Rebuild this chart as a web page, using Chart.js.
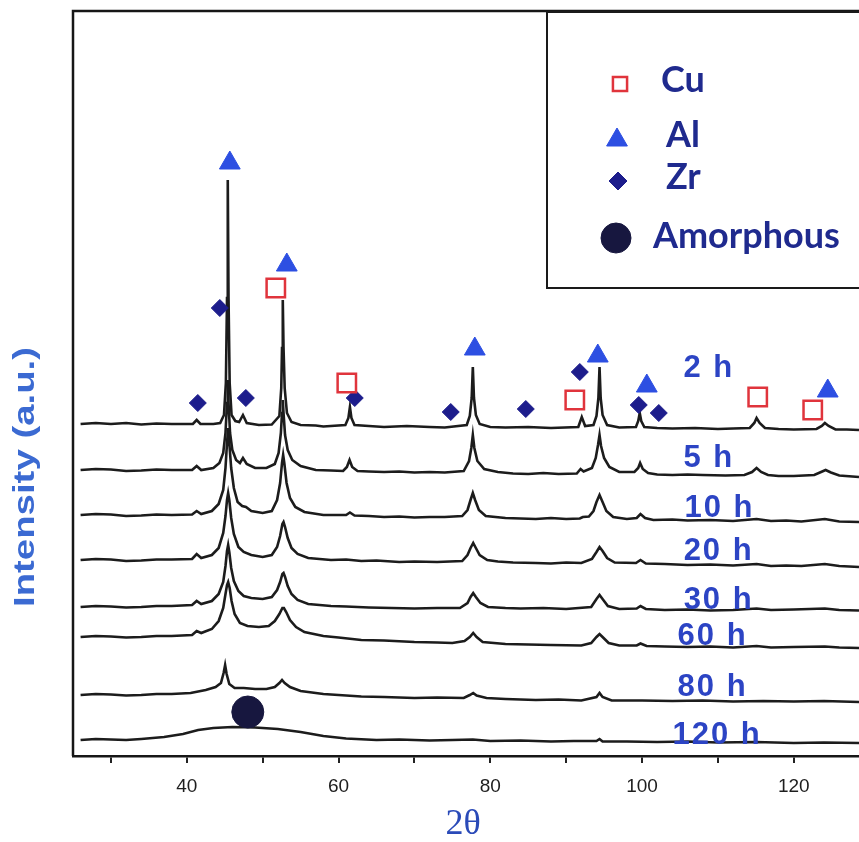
<!DOCTYPE html>
<html>
<head>
<meta charset="utf-8">
<title>XRD patterns vs milling time</title>
<script src="https://cdn.jsdelivr.net/npm/chart.js@4.4.1/dist/chart.umd.min.js"></script>
<style>
  html, body { margin: 0; padding: 0; background: #fff; overflow: hidden; }
  canvas { display: block; }
</style>
</head>
<body>
<canvas id="xrdChart" width="859" height="842"></canvas>
<script>
// milling times, top curve first
const millTimes = ['2 h', '5 h', '10 h', '20 h', '30 h', '60 h', '80 h', '120 h'];

// [2θ, intensity (a.u., stacked)]
const pattern2h = [[26,324],[28,325],[30,324],[32,325],[34,323.5],[36,324.5],[38,324],[40.8,324],[41.3,328],[41.8,324],[43.5,324],[44.4,325],[44.9,333],[45.15,365],[45.3,450],[45.4,568],[45.5,450],[45.65,365],[45.9,333],[46.4,327],[46.9,326],[47.4,333],[47.9,325],[49.5,323],[51.2,323.5],[52.2,332],[52.45,360],[52.55,400],[52.65,448],[52.75,400],[52.9,360],[53.2,335],[53.8,326],[55,323],[57,322.5],[58,321.5],[60.9,323],[61.3,330],[61.5,341],[61.7,330],[62.1,323],[64,322],[66,321],[69,322],[72,321],[74,320.5],[76.9,323],[77.3,332],[77.55,350],[77.7,381],[77.85,350],[78.1,333],[78.6,324],[80,321],[82,320.5],[85,321],[88,320],[91.6,321],[92.06,331],[92.5,322],[93.6,323],[94.0,332],[94.25,350],[94.4,381],[94.55,350],[94.8,333],[95.4,323],[97,320.5],[99.2,321],[99.5,327],[99.7,335],[99.9,327],[100.3,321],[102,320],[104,319.5],[107,320],[110,319],[112,319.5],[114.2,320],[114.8,325],[115.1,330],[115.5,325],[116.2,320],[118,319],[120,318.5],[123.0,319],[123.7,322],[124.1,325],[124.6,322],[125.5,318.5],[127,318.5],[128.6,318]];
const pattern5h = [[26,278],[28,279],[30,278.5],[32,277],[34,277.5],[36,278.5],[38,278],[40.7,278],[41.3,282],[41.9,278],[43.5,280],[44.3,285],[44.8,295],[45.1,315],[45.3,345],[45.4,368],[45.5,345],[45.7,315],[46.0,298],[46.5,288],[47.0,285],[47.4,290],[47.9,284],[49,280],[50.5,280],[51.6,284],[52.1,295],[52.4,315],[52.55,335],[52.65,348],[52.75,335],[52.95,313],[53.3,298],[53.9,288],[55,282],[57,278],[59,277.5],[60.6,277],[61.1,281],[61.45,288],[61.8,281],[62.5,277],[64,276.5],[66,276],[68,276.5],[70,275.5],[72,276],[74,275.5],[76.5,277],[77.2,287],[77.5,300],[77.7,313],[77.9,300],[78.3,287],[79.2,279],[81,276],[83,274.5],[85,274],[87,275],[89,274],[91.4,274.5],[91.9,279],[92.3,276.5],[93.4,280],[93.9,290],[94.2,303],[94.4,313],[94.6,302],[95.0,290],[95.7,281],[97,276],[99,276],[99.5,280],[99.75,285],[100.1,279],[100.8,275],[102,273.5],[104,273],[106,273.5],[108,273],[111,272.5],[113.5,273],[114.5,276],[115.1,280],[115.7,276],[116.6,273],[118,272],[120,272],[122.7,273],[123.6,276],[124.2,278],[124.9,275.5],[126,272.5],[128.6,271]];
const pattern10h = [[26,233],[28,234],[30,233.5],[32,232],[34,232.5],[36,233.5],[38,233],[40.7,233.5],[41.3,237],[41.9,234],[43.3,237],[44.2,244],[44.8,258],[45.1,280],[45.3,305],[45.45,320],[45.6,305],[45.85,280],[46.2,260],[46.7,246],[47.3,242],[47.8,241],[48.5,237],[50,235],[51.2,237],[51.9,248],[52.3,265],[52.55,285],[52.7,293],[52.85,285],[53.15,265],[53.6,250],[54.3,241],[55.5,236],[58,233],[61.0,233],[61.5,235.5],[62.1,232.5],[64,232],[66,231],[68,231.5],[70,230.5],[72,231],[74,231],[76.3,232],[77.0,238],[77.4,248],[77.7,255],[78.0,248],[78.5,238],[79.4,232],[82,230],[84,229.5],[86,229],[88,230],[90,229],[91.8,229.5],[92.2,231],[93.0,231.5],[93.6,237],[94.0,246],[94.4,253],[94.8,246],[95.3,237],[96.2,231],[98,229],[99.3,230],[99.8,234],[100.4,230],[101.5,228],[104,228.5],[106,227.5],[109,228],[112,227],[115.1,229],[117,227],[119,227.5],[121,226.5],[124.1,229],[126,226.5],[128.6,226]];
const pattern20h = [[26,188],[28,189],[30,188.5],[32,187],[34,187.5],[36,188.5],[38,188.5],[40.7,189],[41.3,194],[41.9,190],[43.3,193],[44.2,200],[44.8,215],[45.1,232],[45.3,248],[45.45,255],[45.6,248],[45.85,230],[46.2,214],[46.8,201],[47.5,196],[48.5,193],[50,191],[51.2,193],[51.9,201],[52.3,212],[52.6,224],[52.75,226],[52.95,221],[53.3,210],[53.8,200],[54.6,194],[56,190],[59,188],[61,188.5],[63,187],[65,187.5],[68,186],[70,186.5],[73,186],[76.3,187],[77.0,193],[77.4,200],[77.75,205],[78.1,200],[78.6,193],[79.6,188],[81,186.5],[83,185.5],[86,185],[88,184.5],[90,185.5],[92,185],[93.4,189],[94.0,196],[94.4,201],[94.8,197],[95.4,190],[96.4,185.5],[99.2,185],[99.8,188],[100.5,184.5],[103,184],[106,183],[109,183.5],[112,182.5],[115.1,184],[117,182],[119,182.5],[121,182],[124.1,184],[126,182],[128.6,181]];
const pattern30h = [[26,141],[28,142],[30,141.5],[32,140.5],[34,141],[36,142],[38,142],[40.7,143],[41.3,147],[41.9,144],[43.3,147],[44.2,154],[44.8,166],[45.1,182],[45.3,197],[45.45,203],[45.6,196],[45.85,180],[46.2,167],[46.8,157],[47.5,152],[48.5,150],[50,149],[51.2,151],[51.9,158],[52.3,166],[52.6,174],[52.75,175],[52.95,171],[53.3,162],[53.8,154],[54.6,148],[56,144],[59,142],[61,141.5],[64,140.5],[67,140],[70,139.5],[73,140],[76,140],[77.0,145],[77.4,151],[77.75,155],[78.1,151],[78.7,145],[79.7,141],[82,140],[84,139.5],[87,140],[90,139],[93.3,141],[94.0,149],[94.4,153],[94.8,149],[95.5,142],[97,139],[99.3,139.5],[99.8,142],[100.5,139],[103,138],[106,138.5],[109,137.5],[112,138],[115.1,139.5],[117,138],[120,138.5],[124.1,139.5],[126,138],[128.6,137.5]];
const pattern60h = [[26,111],[28,112],[30,111.5],[32,110.5],[34,111],[36,112],[38,112],[40.7,113],[41.3,117],[41.9,115],[43.3,119],[44.2,127],[44.8,140],[45.1,154],[45.3,163],[45.45,166],[45.65,160],[45.9,147],[46.3,134],[47,125],[48,122],[49.5,121],[50.8,122],[51.6,127],[52.2,134],[52.6,140],[52.8,140],[53.1,136],[53.6,128],[54.4,121],[55.5,116],[58,112],[60,110.5],[63,108],[66,107.5],[70,106],[73,105.5],[75,105],[76.6,107],[77.3,111],[77.75,115],[78.2,111],[79,106],[82,104],[85,103.5],[88,103],[92,102.5],[93.3,105],[94.0,111],[94.4,114],[94.8,111],[95.6,105],[97,102.5],[99.3,102.5],[99.8,104.5],[100.6,102],[103,101.5],[106,101],[109,101.5],[112,100.5],[115.1,102],[117,100.5],[120,101],[124.1,101.5],[126,100.5],[128.6,100]];
const pattern80h = [[26,53],[28,54],[30,53.5],[32,52.5],[34,53],[36,54],[38,54],[40.5,55],[42.5,58],[43.8,61],[44.5,65],[44.85,75],[45.05,83],[45.25,74],[45.6,64],[46.3,60],[47.5,60],[49,59],[50.5,59],[51.6,61],[52.2,65],[52.55,68],[52.9,65],[53.6,61],[55,57],[58,54],[60,53],[63,51.5],[66,51],[70,50],[73,50.5],[76.5,50],[77.3,53],[77.75,55],[78.2,52.5],[79.5,50],[82,49],[86,48],[89,48.5],[92,47.5],[94.0,51],[94.4,55],[94.8,51],[96,47.5],[100,47.5],[104,47],[108,47.5],[112,46.5],[116,47],[120,46.5],[124,47],[128.6,46]];
const pattern120h = [[26,8],[28,9],[30,8.5],[32,8],[34,9],[37,11],[39.5,14],[41.5,18],[43.5,20],[46,21],[49,20.5],[52,19],[55,16],[58,12],[61,9.5],[65,8],[68,8.5],[72,7.5],[75,8],[77.7,8.5],[80,7],[84,7.5],[88,6.5],[91,7],[94.0,7],[94.4,9],[94.8,6.5],[98,6.5],[102,6],[106,6.5],[110,5.5],[115,6],[120,5],[124,5.5],[128.6,5]];

const patterns = [pattern2h, pattern5h, pattern10h, pattern20h, pattern30h, pattern60h, pattern80h, pattern120h];

// phase markers [2θ, level]
const cuMarks = [[51.73,460],[61.09,365],[91.14,348],[115.25,351],[122.5,338]];
const alMarks = [[45.67,585],[53.18,483],[77.96,399],[94.17,392],[100.63,362],[124.48,357]];
const zrMarks = [[44.35,440],[41.45,345],[47.78,350],[62.14,350],[74.79,336],[84.68,339],[91.8,376],[99.57,343],[102.21,335]];
const amorphousMarks = [[48.04,36]];

// milling-time label anchors [2θ, level]
const labelTheta = [108.8, 108.8, 110.2, 110.1, 110.1, 109.3, 109.3, 109.9];
const labelLevel = [380, 290, 240, 197, 148, 112, 61, 13];

const tickLabels = [40, 60, 80, 100, 120];

const toXY = (pairs) => pairs.map(p => ({ x: p[0], y: p[1] }));

const markerSets = [
    { label: 'Cu', data: toXY(cuMarks), pointStyle: 'rect', pointRadius: 13, backgroundColor: '#ffffff', borderColor: '#e0343c', borderWidth: 2.5, legendRadius: 10 },
    { label: 'Al', data: toXY(alMarks), pointStyle: 'triangle', pointRadius: 12, backgroundColor: '#2d4fe2', borderColor: '#2d4fe2', borderWidth: 1, legendRadius: 12 },
    { label: 'Zr', data: toXY(zrMarks), pointStyle: 'rectRot', pointRadius: 8.5, backgroundColor: '#1d1d8c', borderColor: '#1d1d8c', borderWidth: 1, legendRadius: 9 },
    { label: 'Amorphous', data: toXY(amorphousMarks), pointStyle: 'circle', pointRadius: 16, backgroundColor: '#17173f', borderColor: '#17173f', borderWidth: 1, legendRadius: 15 }
].map(s => Object.assign(s, { showLine: false, pointHoverRadius: s.pointRadius, order: 0 }));

const curveSets = patterns.map((p, i) => ({
    label: millTimes[i],
    data: toXY(p),
    borderColor: '#1c1c1c',
    borderWidth: 2.6,
    pointRadius: 0,
    tension: 0,
    fill: false,
    order: 1
}));

// frame, text labels and the phase legend box
const figureDecor = {
    id: 'figureDecor',
    afterDraw(chart) {
        const { ctx, chartArea, scales } = chart;
        const xs = scales.x, ys = scales.y;
        ctx.save();

        // frame (left and top; bottom comes from the x axis border)
        ctx.strokeStyle = '#161616';
        ctx.lineWidth = 2.5;
        ctx.beginPath();
        ctx.moveTo(chartArea.left, chartArea.bottom);
        ctx.lineTo(chartArea.left, chartArea.top);
        ctx.lineTo(chartArea.right, chartArea.top);
        ctx.stroke();

        // milling time labels
        ctx.fillStyle = '#2c44c4';
        ctx.font = 'bold 31px "Liberation Sans", Arial, sans-serif';
        ctx.letterSpacing = '2px';
        ctx.textAlign = 'center';
        ctx.textBaseline = 'middle';
        millTimes.forEach((t, i) => {
            ctx.fillText(t, xs.getPixelForValue(labelTheta[i]), ys.getPixelForValue(labelLevel[i]));
        });
        ctx.letterSpacing = '0px';

        // y title
        ctx.save();
        ctx.translate(26, 477);
        ctx.rotate(-Math.PI / 2);
        ctx.font = 'bold 30px "Liberation Sans", Arial, sans-serif';
        const yTitle = 'Intensity (a.u.)';
        const w = ctx.measureText(yTitle).width;
        ctx.scale(260 / w, 1);
        ctx.fillStyle = '#3b6ad2';
        ctx.fillText(yTitle, 0, 0);
        ctx.restore();

        // x title
        ctx.fillStyle = '#2a4ab8';
        ctx.font = '36px "Liberation Serif", "Times New Roman", serif';
        ctx.fillText('2θ', 463, 825);

        // legend box
        const box = { left: 547, top: 12, right: 880, bottom: 288 };
        ctx.fillStyle = '#ffffff';
        ctx.fillRect(box.left, box.top, box.right - box.left, box.bottom - box.top);
        ctx.strokeStyle = '#1a1a1a';
        ctx.lineWidth = 2;
        ctx.strokeRect(box.left, box.top, box.right - box.left, box.bottom - box.top);

        const rows = [
            { sx: 620, sy: 84, tx: 661, ty: 80 },
            { sx: 617, sy: 140, tx: 666, ty: 135 },
            { sx: 618, sy: 181, tx: 666, ty: 177 },
            { sx: 616, sy: 238, tx: 653, ty: 236 }
        ];
        ctx.textAlign = 'left';
        markerSets.forEach((s, i) => {
            const r = rows[i];
            ctx.fillStyle = s.backgroundColor;
            ctx.strokeStyle = s.borderColor;
            ctx.lineWidth = s.borderWidth;
            Chart.helpers.drawPoint(ctx, { pointStyle: s.pointStyle, radius: s.legendRadius, rotation: 0, borderWidth: s.borderWidth }, r.sx, r.sy);
            ctx.fillStyle = '#1f2a8e';
            ctx.font = 'bold 36px Lato, "Open Sans", sans-serif';
            ctx.fillText(s.label, r.tx, r.ty);
        });

        ctx.restore();
    }
};

new Chart(document.getElementById('xrdChart').getContext('2d'), {
    type: 'line',
    data: { datasets: markerSets.concat(curveSets) },
    options: {
        responsive: false,
        animation: false,
        devicePixelRatio: 1,
        layout: { autoPadding: false, padding: { left: 73, top: 11, right: 0, bottom: 0 } },
        plugins: {
            legend: { display: false },
            tooltip: { enabled: false }
        },
        scales: {
            x: {
                type: 'linear',
                min: 25,
                max: 128.6,
                afterFit: (scale) => {
                    scale.height = 86;
                    scale.paddingLeft = 0;
                    scale.paddingRight = 0;
                },
                border: { display: true, color: '#161616', width: 2.5 },
                grid: { drawOnChartArea: false, drawTicks: true, tickLength: 7, color: '#222', lineWidth: 2 },
                ticks: {
                    stepSize: 10,
                    includeBounds: false,
                    autoSkip: false,
                    maxRotation: 0,
                    padding: 12,
                    color: '#1e1e1e',
                    font: { family: '"Liberation Sans", Arial, sans-serif', size: 19 },
                    callback: (v) => tickLabels.includes(v) ? String(v) : ''
                }
            },
            y: {
                type: 'linear',
                display: false,
                min: -8,
                max: 737
            }
        }
    },
    plugins: [figureDecor]
});
</script>
</body>
</html>
